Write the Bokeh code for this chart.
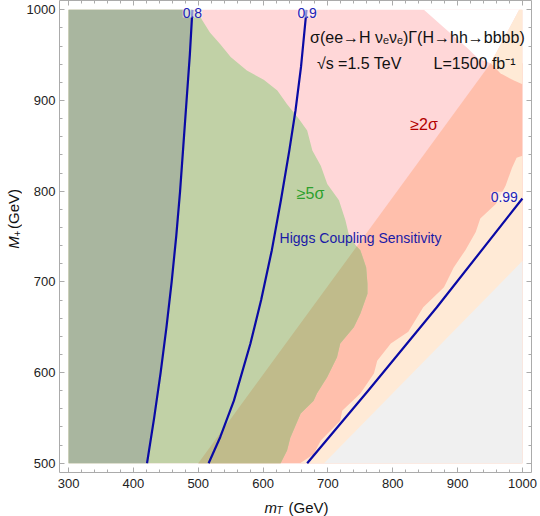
from bokeh.plotting import figure
from bokeh.models import Label, LinearAxis, SingleIntervalTicker, Range1d
from bokeh.layouts import row, column
from bokeh.embed import file_html
from bokeh.resources import INLINE

# ---------------- data (GeV) ----------------
X_MIN, X_MAX = 300, 1000
Y_MIN, Y_MAX = 500, 1000

# Higgs coupling sensitivity contours
C08_X = [421, 432, 442, 451, 459, 466, 472, 477, 482, 487, 491]
C08_Y = [500, 550, 600, 650, 700, 750, 800, 850, 900, 950, 1000]
C09_X = [516, 534, 555, 580.5, 597, 613.5, 627.5, 640.5, 650, 658.5, 667]
C09_Y = [500, 529, 569, 632, 680, 735, 790, 845, 889, 937, 1000]
C099_X = [668, 762, 868, 1000]
C099_Y = [500, 580, 672, 792]

# >=5 sigma region boundary (top to bottom)
G5_X = [498, 505, 518, 534, 550, 575, 601, 622, 637, 655, 668, 676, 689, 699, 717,
        727, 732, 743, 750, 759, 761, 761, 750, 740, 719, 714, 699, 683, 678, 658,
        642, 637, 627]
G5_Y = [1000, 990, 975, 962, 948, 933, 923, 911, 896, 880, 867, 845, 828, 808, 790,
        768, 753, 740, 735, 716, 698, 687, 665, 650, 632, 617, 595, 577, 569, 555,
        528, 514, 500]

# >=2 sigma (salmon) left edge
S_X = [500, 951]
S_Y = [500, 941]

# white corner, top right
W_X = [848, 878, 915, 932, 951, 995]
W_Y = [1000, 981, 958, 946, 941, 1000]

# light band, top-right piece
PT_X = [951, 995, 1000, 1000, 987, 966]
PT_Y = [941, 1000, 1000, 918, 922, 930]

# light band, lower edge of the 2 sigma region (bottom to top)
P1_X = [657, 678, 689, 719, 722, 750, 771, 776, 797, 824, 847, 879, 894, 912, 928,
        935, 959, 974, 984, 991, 1000]
P1_Y = [500, 510, 525, 547, 558, 577, 599, 613, 632, 645, 672, 694, 716, 735, 755,
        770, 786, 806, 826, 837, 839]

# excluded region edge
GR_X = [694, 1000]
GR_Y = [500, 723]

# ---------------- colours ----------------
PINK = "#ffd7d8"
SALMON = "#ffbfac"
PEACH = "#ffead6"
GRAY = "#f0f0f0"
GREEN = "#c1d1a6"
OLIVE = "#c0bb8b"
DARK = "#a9b69f"
BLUE = "#0a0aa5"
FONT = "Liberation Sans"
INK = "#111111"


def clip_right(px, py, ax, ay, bx, by):
    """Keep the part of polygon (px,py) on the right (below) of line A->B."""
    def side(x, y):
        return (bx - ax) * (y - ay) - (by - ay) * (x - ax)
    out_x, out_y = [], []
    n = len(px)
    for i in range(n):
        x1, y1 = px[i], py[i]
        x2, y2 = px[(i + 1) % n], py[(i + 1) % n]
        s1, s2 = side(x1, y1), side(x2, y2)
        if s1 <= 0:
            out_x.append(x1)
            out_y.append(y1)
        if (s1 < 0 < s2) or (s2 < 0 < s1):
            t = s1 / (s1 - s2)
            out_x.append(x1 + t * (x2 - x1))
            out_y.append(y1 + t * (y2 - y1))
    return out_x, out_y


STRIP_W = 22
MAIN_W = 540 - STRIP_W
MAIN_H = 496
STRIP_H = 516 - MAIN_H

p = figure(width=MAIN_W, height=MAIN_H,
           x_range=Range1d(286, 1014), y_range=Range1d(489.8, 1010.3),
           output_backend="svg", toolbar_location=None,
           min_border_left=37, min_border_right=9,
           min_border_top=0, min_border_bottom=24)
p.grid.visible = False
p.outline_line_color = None
p.background_fill_color = "white"
p.border_fill_color = "white"

# regions
p.patch([X_MIN, X_MAX, X_MAX, X_MIN], [Y_MIN, Y_MIN, Y_MAX, Y_MAX],
        fill_color=PINK, line_color=None)
p.patch(W_X, W_Y, fill_color="white", line_color=None)
p.patch(S_X + [X_MAX, X_MAX], S_Y + [S_Y[-1], Y_MIN], fill_color=SALMON, line_color=None)
p.patch(PT_X, PT_Y, fill_color=PEACH, line_color=None)
p.patch(P1_X + [X_MAX], P1_Y + [Y_MIN], fill_color=PEACH, line_color=None)
p.patch(GR_X + [X_MAX], GR_Y + [Y_MIN], fill_color=GRAY, line_color=None)

gx = [X_MIN] + G5_X + [X_MIN]
gy = [Y_MAX] + G5_Y + [Y_MIN]
p.patch(gx, gy, fill_color=GREEN, line_color=None)
ox, oy = clip_right(gx, gy, S_X[0], S_Y[0], S_X[1], S_Y[1])
p.patch(ox, oy, fill_color=OLIVE, line_color=None)
p.patch([X_MIN] + C08_X + [X_MIN], [Y_MIN] + C08_Y + [Y_MAX], fill_color=DARK, line_color=None)

# contour lines
for cx, cy in ((C08_X, C08_Y), (C09_X, C09_Y), (C099_X, C099_Y)):
    p.line(cx, cy, line_color=BLUE, line_width=2.2, line_join="round")

# contour labels
for tx, ty, t in ((491, 997, "0.8"), (668, 997, "0.9"), (972, 794, "0.99")):
    p.add_layout(Label(x=tx, y=ty, text=t, text_align="center", text_baseline="middle",
                       text_font=FONT, text_font_size="14px", text_color="#2222b8",
                       background_fill_color="white", background_fill_alpha=0.55))


def lab(fig, x, y, text, size, color, align="left", baseline="middle", style="normal", angle=0):
    fig.add_layout(Label(x=x, y=y, text=text, text_align=align, text_baseline=baseline,
                         text_font=FONT, text_font_size=size, text_color=color,
                         text_font_style=style, angle=angle))


lab(p, 838, 969, "σ(ee→H νₑνₑ)Γ(H→hh→bbbb)", "16px", INK, align="center",
    baseline="alphabetic")
lab(p, 683, 940.5, "√s =1.5 TeV", "16px", INK, baseline="alphabetic")
lab(p, 863, 940.5, "L=1500 fb⁻¹", "16px", INK, baseline="alphabetic")
lab(p, 827, 873.5, "≥2σ", "16px", "#b30000")
lab(p, 652, 798, "≥5σ", "16px", "#2ca02c")
lab(p, 625.5, 748.5, "Higgs Coupling Sensitivity", "14px", "#1a1aa6")

# axes (frame)
FRAME = "#ababab"


def style_axis(ax, show_labels, standoff):
    ax.ticker = SingleIntervalTicker(interval=100, num_minor_ticks=5)
    ax.axis_line_color = FRAME
    ax.major_tick_line_color = FRAME
    ax.minor_tick_line_color = FRAME
    ax.major_tick_in = 5
    ax.major_tick_out = 0
    ax.minor_tick_in = 3
    ax.minor_tick_out = 0
    ax.major_label_text_font = FONT
    if show_labels:
        ax.major_label_text_color = "#222222"
        ax.major_label_text_font_size = "13px"
        ax.major_label_standoff = standoff
    else:
        ax.major_label_text_color = None
        ax.major_label_text_font_size = "0px"
        ax.major_label_standoff = 0


style_axis(p.xaxis[0], True, 6)
style_axis(p.yaxis[0], True, 4)
top = LinearAxis()
right = LinearAxis()
style_axis(top, False, 0)
style_axis(right, False, 0)
p.add_layout(top, "above")
p.add_layout(right, "right")


def strip(w, h):
    s = figure(width=w, height=h, x_range=Range1d(0, w), y_range=Range1d(0, h),
               output_backend="svg", toolbar_location=None,
               x_axis_location=None, y_axis_location=None,
               min_border_left=0, min_border_right=0, min_border_top=0, min_border_bottom=0)
    s.grid.visible = False
    s.outline_line_color = None
    s.background_fill_color = "white"
    s.border_fill_color = "white"
    return s


# y-axis title strip (pixel coordinates, y up)
ys = strip(STRIP_W, MAIN_H)
lab(ys, 12.5, MAIN_H - 261, "M", "15px", INK, style="italic", angle=1.5707963)
lab(ys, 16.5, MAIN_H - 248, "+", "10px", INK, angle=1.5707963)
lab(ys, 12.5, MAIN_H - 240, "(GeV)", "15px", INK, angle=1.5707963)

# x-axis title strip (pixel coordinates, y up from strip bottom)
xs = strip(540, STRIP_H)
lab(xs, 264, 516 - 506.5, "m", "15px", INK, style="italic")
lab(xs, 276, 516 - 510, "T", "10px", INK, style="italic")
lab(xs, 288, 516 - 506.5, "(GeV)", "15px", INK)

layout = column(row(ys, p, spacing=0), xs, spacing=0)

open("out.html", "w").write(file_html(layout, INLINE))
